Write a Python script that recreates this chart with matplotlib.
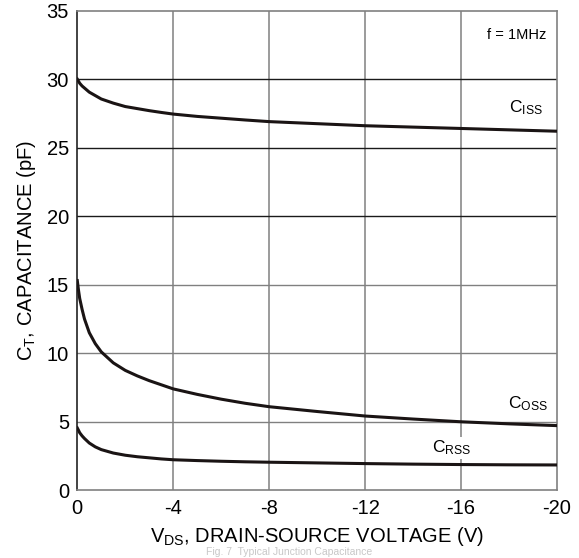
import numpy as np
import matplotlib
matplotlib.use('Agg')
import matplotlib.pyplot as plt

plt.rcParams['font.family'] = ['Liberation Sans', 'DejaVu Sans']
plt.rcParams['mathtext.fontset'] = 'custom'
plt.rcParams['mathtext.rm'] = 'Liberation Sans'
plt.rcParams['mathtext.it'] = 'Liberation Sans'
plt.rcParams['mathtext.default'] = 'regular'
plt.rcParams['axes.unicode_minus'] = False

# data (V_DS in volts, capacitance in pF)
v_ds = [0, -0.05, -0.1, -0.2, -0.3, -0.5, -0.75, -1, -1.5, -2, -2.5, -3, -3.5, -4,
        -5, -6, -7, -8, -10, -12, -14, -16, -18, -20]
c_iss = [30.0, 29.85, 29.7, 29.5, 29.35, 29.05, 28.8, 28.55, 28.25, 28.0, 27.85, 27.7, 27.57, 27.45,
         27.28, 27.15, 27.02, 26.9, 26.75, 26.6, 26.5, 26.4, 26.3, 26.2]
c_oss = [15.3, 14.6, 14.0, 13.2, 12.5, 11.5, 10.7, 10.1, 9.3, 8.75, 8.35, 8.0, 7.7, 7.4,
         7.0, 6.65, 6.35, 6.1, 5.75, 5.42, 5.2, 5.0, 4.85, 4.72]
c_rss = [4.55, 4.38, 4.2, 3.97, 3.78, 3.45, 3.17, 2.97, 2.72, 2.56, 2.45, 2.37, 2.29, 2.23,
         2.17, 2.12, 2.08, 2.05, 2.0, 1.95, 1.91, 1.88, 1.86, 1.85]

x_ticks = [0, -4, -8, -12, -16, -20]
y_ticks = [0, 5, 10, 15, 20, 25, 30, 35]

fig = plt.figure(figsize=(5.79, 5.58), dpi=100)
ax = fig.add_axes([0.1335, 0.1213, 0.8285, 0.8597])

# grid: vertical grey, upper horizontals darker
for x in x_ticks[1:-1]:
    ax.axvline(x, color='#808080', lw=1.1, zorder=1)
for y in y_ticks[1:-1]:
    col = '#1a1a1a' if y >= 20 else '#808080'
    ax.axhline(y, color=col, lw=1.0, zorder=1)

for c in (c_iss, c_oss, c_rss):
    ax.plot(v_ds, c, color='#1a1414', lw=2.2, zorder=3, solid_joinstyle='round')

ax.set_xlim(0, -20)
ax.set_ylim(0, 35)
ax.set_xticks(x_ticks)
ax.set_yticks(y_ticks)
ax.tick_params(length=0, labelsize=14.5, pad=6)
for s in ax.spines.values():
    s.set_color('#808080')
    s.set_linewidth(1.2)
ax.spines['left'].set_color('#222222')

ax.set_xlabel('V$_{DS}$, DRAIN-SOURCE VOLTAGE (V)', fontsize=14.5, labelpad=5)
ax.set_ylabel('C$_{T}$, CAPACITANCE (pF)', fontsize=14.5, labelpad=6)

ax.text(-18.3, 33.2, 'f = 1MHz', fontsize=10.5, va='center', ha='center')
ax.text(-18.7, 27.9, 'C$_{ISS}$', fontsize=12.5, va='center', ha='center')
ax.text(-18.8, 6.3, 'C$_{OSS}$', fontsize=12.5, va='center', ha='center')
ax.text(-15.6, 3.1, 'C$_{RSS}$', fontsize=12.5, va='center', ha='center', zorder=4,
        bbox=dict(facecolor='white', edgecolor='none', pad=1))

fig.text(0.5, 0.002, 'Fig. 7  Typical Junction Capacitance', fontsize=7.5,
         color='#c8c8c8', va='bottom', ha='center')

fig.savefig('out.png', dpi=100)
